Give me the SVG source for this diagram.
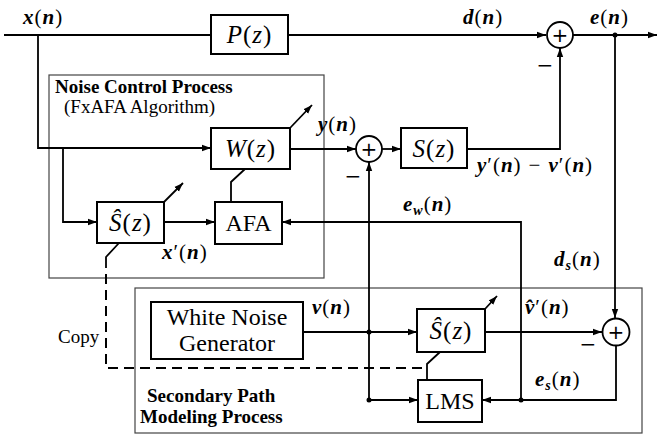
<svg xmlns="http://www.w3.org/2000/svg" width="658" height="436" viewBox="0 0 658 436">
<defs>
<marker id="ah" markerUnits="userSpaceOnUse" markerWidth="10" markerHeight="8" refX="9" refY="4" orient="auto">
<path d="M0,0.8 L9,4 L0,7.2 z" fill="#000"/>
</marker>
<style>
.ln{fill:none;stroke:#000;stroke-width:1.8}
.bx{fill:#fff;stroke:#000;stroke-width:2}
.pr{fill:none;stroke:#444;stroke-width:1.2}
.dash{fill:none;stroke:#000;stroke-width:2;stroke-dasharray:10 6}
.sum{fill:#fff;stroke:#000;stroke-width:1.8}
.m{font-family:'Liberation Serif','Times New Roman',Times,'DejaVu Serif','Noto Serif',serif;font-style:italic;font-weight:bold;font-size:21px;letter-spacing:1px;fill:#000}
.up{font-style:normal;font-weight:normal}
.bm{font-family:'Liberation Serif','Times New Roman',Times,'DejaVu Serif','Noto Serif',serif;font-style:italic;font-size:25px;letter-spacing:1px;fill:#000}
.t{font-family:'Liberation Serif','Times New Roman',Times,'DejaVu Serif','Noto Serif',serif;font-size:24px;fill:#000}
.tb{font-family:'Liberation Serif','Times New Roman',Times,'DejaVu Serif','Noto Serif',serif;font-weight:bold;font-size:19px;fill:#000}
.tr{font-family:'Liberation Serif','Times New Roman',Times,'DejaVu Serif','Noto Serif',serif;font-size:19px;fill:#000}
.pm{font-family:'DejaVu Sans',sans-serif;font-size:20px;fill:#000}
</style>
</defs>

<rect id="noise-control-frame" class="pr" x="49" y="75" width="275" height="203"/>
<rect id="secondary-frame" class="pr" x="135" y="288" width="507" height="145"/>

<g id="connectors">
<path class="ln" d="M4,35 H211"/>
<path class="ln" d="M288,35 H546" marker-end="url(#ah)"/>
<path class="ln" d="M573,35 H657" marker-end="url(#ah)"/>
<path class="ln" d="M615,35 V318" marker-end="url(#ah)"/>
<path class="ln" d="M38,35 V148 H211" marker-end="url(#ah)"/>
<path class="ln" d="M63,148 V222 H97" marker-end="url(#ah)"/>
<path class="ln" d="M290,149 H356" marker-end="url(#ah)"/>
<path class="ln" d="M382,149 H401" marker-end="url(#ah)"/>
<path class="ln" d="M467,149 H560 V48" marker-end="url(#ah)"/>
<path class="ln" d="M521,400 V222 H282" marker-end="url(#ah)"/>
<path class="ln" d="M369,332 V162" marker-end="url(#ah)"/>
<path class="ln" d="M369,332 V400 H418" marker-end="url(#ah)"/>
<path class="ln" d="M303,332 H417" marker-end="url(#ah)"/>
<path class="ln" d="M485,332 H602" marker-end="url(#ah)"/>
<path class="ln" d="M616,346 V400 H482" marker-end="url(#ah)"/>
<path class="ln" d="M164,222 H215" marker-end="url(#ah)"/>
<path class="ln" d="M231,202 V182 L245,169"/>
<path class="ln" d="M290,128 L312,105" marker-end="url(#ah)"/>
<path class="ln" d="M164,202 L183,183" marker-end="url(#ah)"/>
<path class="ln" d="M485,309 L497,296" marker-end="url(#ah)"/>
<path class="ln" d="M119,243 L106,257 V268"/>
<path class="dash" d="M106,274 V368 H427"/>
<path class="ln" d="M427,380 V364 L440,352"/>
<circle cx="615" cy="35" r="2.5" fill="#000"/>
<circle cx="369" cy="332" r="2.5" fill="#000"/>
<circle cx="369" cy="400" r="2.5" fill="#000"/>
<circle cx="521" cy="400" r="2.5" fill="#000"/>
</g>

<g id="P">
<rect class="bx" x="211" y="15" width="77" height="39"/>
<text class="bm" x="249.5" y="43" text-anchor="middle">P<tspan class="up">(</tspan>z<tspan class="up">)</tspan></text>
</g>
<g id="sum1">
<circle class="sum" cx="560" cy="35" r="13"/>
<text class="pm" x="560" y="42" text-anchor="middle">+</text>
</g>
<g id="W">
<rect class="bx" x="211" y="128" width="79" height="41"/>
<text class="bm" x="250.5" y="157" text-anchor="middle">W<tspan class="up">(</tspan>z<tspan class="up">)</tspan></text>
</g>
<g id="sum2">
<circle class="sum" cx="369" cy="149" r="13"/>
<text class="pm" x="369" y="156" text-anchor="middle">+</text>
</g>
<g id="S">
<rect class="bx" x="401" y="128" width="66" height="40"/>
<text class="bm" x="434" y="157" text-anchor="middle">S<tspan class="up">(</tspan>z<tspan class="up">)</tspan></text>
</g>
<g id="Shat1">
<rect class="bx" x="97" y="202" width="67" height="41"/>
<text class="bm" x="130.5" y="231" text-anchor="middle">Ŝ<tspan class="up">(</tspan>z<tspan class="up">)</tspan></text>
</g>
<g id="AFA">
<rect class="bx" x="215" y="202" width="67" height="42"/>
<text class="t" x="248.5" y="231" text-anchor="middle">AFA</text>
</g>
<g id="WNG">
<rect class="bx" x="151" y="302" width="152" height="57"/>
<text class="t" x="227" y="325" text-anchor="middle">White Noise</text>
<text class="t" x="227" y="351" text-anchor="middle">Generator</text>
</g>
<g id="Shat2">
<rect class="bx" x="417" y="309" width="68" height="43"/>
<text class="bm" x="451" y="339" text-anchor="middle">Ŝ<tspan class="up">(</tspan>z<tspan class="up">)</tspan></text>
</g>
<g id="sum3">
<circle class="sum" cx="616" cy="332" r="13.5"/>
<text class="pm" x="616" y="339" text-anchor="middle">+</text>
</g>
<g id="LMS">
<rect class="bx" x="418" y="380" width="64" height="42"/>
<text class="t" x="450" y="409" text-anchor="middle">LMS</text>
</g>

<g id="labels">
<text class="tb" x="55" y="93">Noise Control Process</text>
<text class="tr" x="64" y="113">(FxAFA Algorithm)</text>
<text class="tb" x="147" y="402">Secondary Path</text>
<text class="tb" x="140" y="423">Modeling Process</text>
<text class="tr" x="58" y="343">Copy</text>
<text class="m" x="23" y="24">x<tspan class="up">(</tspan>n<tspan class="up">)</tspan></text>
<text class="m" x="463" y="24">d<tspan class="up">(</tspan>n<tspan class="up">)</tspan></text>
<text class="m" x="590" y="24">e<tspan class="up">(</tspan>n<tspan class="up">)</tspan></text>
<text class="m" x="318" y="131">y<tspan class="up">(</tspan>n<tspan class="up">)</tspan></text>
<text class="m" x="477" y="172">y<tspan class="up">′(</tspan>n<tspan class="up">)</tspan><tspan class="up" dx="7">−</tspan><tspan dx="7">v</tspan><tspan class="up">′(</tspan>n<tspan class="up">)</tspan></text>
<text class="m" x="403" y="211">e<tspan font-size="14" dy="4">w</tspan><tspan class="up" dy="-4">(</tspan>n<tspan class="up">)</tspan></text>
<text class="m" x="554" y="266">d<tspan font-size="14" dy="4">s</tspan><tspan class="up" dy="-4">(</tspan>n<tspan class="up">)</tspan></text>
<text class="m" x="162" y="259">x<tspan class="up">′(</tspan>n<tspan class="up">)</tspan></text>
<text class="m" x="312" y="314">v<tspan class="up">(</tspan>n<tspan class="up">)</tspan></text>
<text class="m" x="525" y="314">v̂<tspan class="up">′(</tspan>n<tspan class="up">)</tspan></text>
<text class="m" x="535" y="386">e<tspan font-size="14" dy="4">s</tspan><tspan class="up" dy="-4">(</tspan>n<tspan class="up">)</tspan></text>
<text class="pm" x="545" y="72" text-anchor="middle">−</text>
<text class="pm" x="353" y="183" text-anchor="middle">−</text>
<text class="pm" x="588" y="351" text-anchor="middle">−</text>
</g>
</svg>
